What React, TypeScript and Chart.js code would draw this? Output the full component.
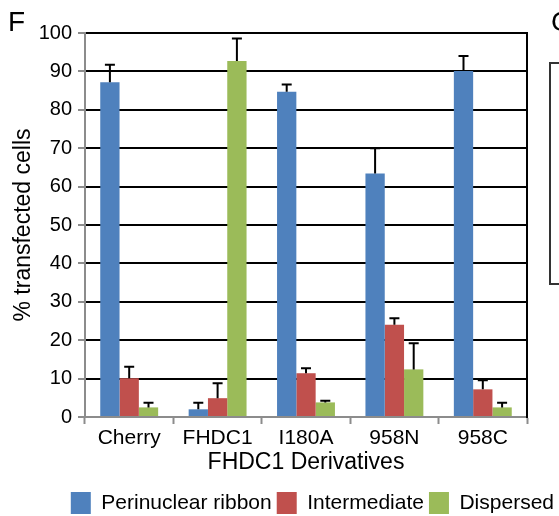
import React, { useEffect, useRef } from 'react';
import { Chart, registerables } from 'chart.js';

Chart.register(...registerables);

const categories = ['Cherry', 'FHDC1', 'I180A', '958N', '958C'];
const seriesNames = ['Perinuclear ribbon', 'Intermediate', 'Dispersed'];
const perinuclear = [87.2, 2.0, 84.7, 63.4, 90.1];
const perinuclearErr = [4.5, 1.7, 1.9, 6.6, 3.9];
const intermediate = [10.1, 4.9, 11.4, 24.0, 7.2];
const intermediateErr = [3.0, 3.9, 1.3, 1.7, 2.4];
const dispersed = [2.5, 92.7, 3.8, 12.4, 2.5];
const dispersedErr = [1.2, 5.9, 0.4, 6.8, 1.2];
const yMin = 0;
const yMax = 100;
const yStep = 10;
const xTitle = 'FHDC1 Derivatives';
const yTitle = '% transfected cells';

const FONT = "'Liberation Sans', Arial, Helvetica, sans-serif";
const GRAY = '#8c8c8c';

const errorBarPlugin = {
  id: 'errorBars',
  afterDatasetsDraw(chart: any) {
    const { ctx } = chart;
    const yScale = chart.scales.y;
    ctx.save();
    ctx.strokeStyle = '#000';
    ctx.lineWidth = 2;
    chart.data.datasets.forEach((ds: any, i: number) => {
      const meta = chart.getDatasetMeta(i);
      if (meta.hidden) return;
      meta.data.forEach((bar: any, j: number) => {
        const v = ds.data[j];
        const e = ds.errors[j];
        const top = yScale.getPixelForValue(v + e);
        ctx.beginPath();
        ctx.moveTo(bar.x, bar.y);
        ctx.lineTo(bar.x, top);
        ctx.moveTo(bar.x - 5, top);
        ctx.lineTo(bar.x + 5, top);
        ctx.stroke();
      });
    });
    ctx.restore();
  },
};

export default function App() {
  const ref = useRef<HTMLCanvasElement | null>(null);

  useEffect(() => {
    if (!ref.current) return;
    Chart.defaults.font.family = FONT;
    Chart.defaults.color = '#000';
    const chart = new Chart(ref.current, {
      type: 'bar',
      data: {
        labels: categories,
        datasets: [
          { label: seriesNames[0], data: perinuclear, errors: perinuclearErr, backgroundColor: '#4F81BD', borderWidth: 0 } as any,
          { label: seriesNames[1], data: intermediate, errors: intermediateErr, backgroundColor: '#C0504D', borderWidth: 0 } as any,
          { label: seriesNames[2], data: dispersed, errors: dispersedErr, backgroundColor: '#9BBB59', borderWidth: 0 } as any,
        ],
      },
      options: {
        animation: false,
        responsive: false,
        events: [],
        layout: { padding: { top: 33, left: 0, right: 0, bottom: -8 } },
        datasets: { bar: { categoryPercentage: 0.655, barPercentage: 1 } },
        plugins: {
          tooltip: { enabled: false },
          legend: {
            position: 'bottom',
            align: 'end',
            labels: {
              boxWidth: 20,
              boxHeight: 22,
              padding: 5,
              color: '#000',
              font: { size: 21, family: FONT },
            },
          },
        },
        scales: {
          x: {
            afterFit: (s: any) => { s.height = 70; },
            grid: {
              display: true,
              drawOnChartArea: false,
              drawTicks: true,
              tickLength: 7,
              tickColor: GRAY,
              tickWidth: 2,
              offset: true,
            },
            border: { display: true, color: GRAY, width: 2 },
            ticks: { padding: 2, color: '#000', font: { size: 21, family: FONT } },
            title: {
              display: true,
              text: xTitle,
              color: '#000',
              font: { size: 23, family: FONT },
              padding: { top: 0, bottom: 11 },
            },
          },
          y: {
            min: yMin,
            max: yMax,
            afterFit: (s: any) => { s.width = 85; },
            ticks: { stepSize: yStep, padding: 6, color: '#000', font: { size: 20, family: FONT } },
            grid: {
              color: (c: any) => (c.tick && c.tick.value === 0 ? 'rgba(0,0,0,0)' : '#000'),
              lineWidth: 2,
              drawTicks: true,
              tickLength: 7,
              tickColor: GRAY,
              tickWidth: 2,
            },
            border: { display: true, color: GRAY, width: 2 },
            title: {
              display: true,
              text: yTitle,
              color: '#000',
              font: { size: 23, family: FONT },
              padding: { top: 10, bottom: 0 },
            },
          },
          y2: {
            type: 'linear',
            position: 'right',
            min: yMin,
            max: yMax,
            afterFit: (s: any) => { s.width = 32; },
            ticks: { display: false },
            grid: { display: false },
            border: { display: true, color: '#000', width: 2 },
          },
        },
      } as any,
      plugins: [errorBarPlugin],
    });
    return () => chart.destroy();
  }, []);

  return (
    <div style={{ position: 'absolute', left: 0, top: 0, width: 559, height: 516, background: '#fff', overflow: 'hidden' }}>
      <canvas ref={ref} width={559} height={516} style={{ display: 'block' }} />
      <div style={{ position: 'absolute', left: 8, top: 8, fontFamily: FONT, fontSize: 28, lineHeight: '28px', color: '#000' }}>F</div>
      <div style={{ position: 'absolute', left: 551, top: 8, fontFamily: FONT, fontSize: 28, lineHeight: '28px', color: '#000' }}>G</div>
      <div style={{ position: 'absolute', left: 549, top: 62, width: 30, height: 219, border: '2px solid #333' }} />
    </div>
  );
}
